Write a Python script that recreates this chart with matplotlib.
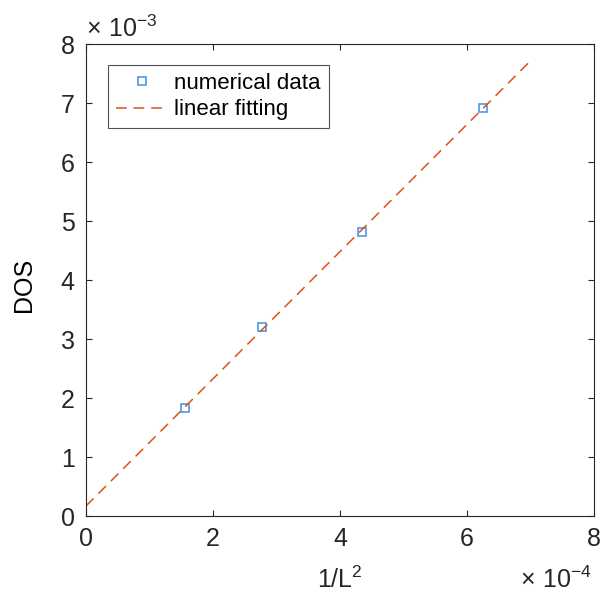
import numpy as np
import matplotlib
matplotlib.use('Agg')
import matplotlib.pyplot as plt
from matplotlib.ticker import FuncFormatter

plt.rcParams['font.family'] = ['Liberation Sans', 'DejaVu Sans']
plt.rcParams['mathtext.fontset'] = 'custom'
plt.rcParams['mathtext.rm'] = 'Liberation Sans'

# data
inv_L2 = [1.5625e-4, 2.778e-4, 4.34e-4, 6.25e-4]
dos = [1.83e-3, 3.21e-3, 4.82e-3, 6.91e-3]
fit_range = [0, 7e-4]

ax_col = '#262626'

fig = plt.figure(figsize=(6.08, 5.93), dpi=100)
ax = fig.add_axes([0.1414, 0.1298, 0.8355, 0.796])

# linear fitting
k, b = np.polyfit(inv_L2, dos, 1)
xf = np.array(fit_range)
ax.plot(inv_L2, dos, 's', ms=6, mfc='none', mec='#4a97ec', mew=1.2, label='numerical data')
ax.plot(xf, k * xf + b, '--', color='#d95319', lw=1.1, dashes=(7, 4.5), label='linear fitting')

ax.set_xlim(0, 8e-4)
ax.set_ylim(0, 8e-3)
ax.set_xticks(np.arange(0, 9e-4, 2e-4))
ax.set_yticks(np.arange(0, 9e-3, 1e-3))
ax.xaxis.set_major_formatter(FuncFormatter(lambda v, p: '%g' % round(v / 1e-4, 6)))
ax.yaxis.set_major_formatter(FuncFormatter(lambda v, p: '%g' % round(v / 1e-3, 6)))

ax.tick_params(direction='in', length=4.5, width=0.8, colors=ax_col, labelsize=18,
               top=True, right=True, pad=8)
for s in ax.spines.values():
    s.set_color(ax_col)
    s.set_linewidth(0.8)

ax.set_xlabel('1/L$^2$', fontsize=18, color=ax_col, va='baseline')
ax.xaxis.set_label_coords(0.5, -0.1525)
ax.set_ylabel('DOS', fontsize=18, color='black', va='center')
ax.yaxis.set_label_coords(-0.122, 0.49)

ax.text(0, 1.0155, r'$\times\ 10^{-3}$', transform=ax.transAxes, fontsize=18,
        color=ax_col, ha='left', va='baseline')
ax.text(0.996, -0.1525, r'$\times\ 10^{-4}$', transform=ax.transAxes, fontsize=18,
        color=ax_col, ha='right', va='baseline')

leg = ax.legend(loc='upper left', bbox_to_anchor=(0.043, 0.9555), fontsize=16,
                frameon=True, fancybox=False, edgecolor=ax_col, handlelength=2.35,
                borderpad=0.35, labelspacing=0.25, handletextpad=0.3, borderaxespad=0)
leg.get_frame().set_linewidth(0.8)

fig.savefig('out.png', dpi=100)
